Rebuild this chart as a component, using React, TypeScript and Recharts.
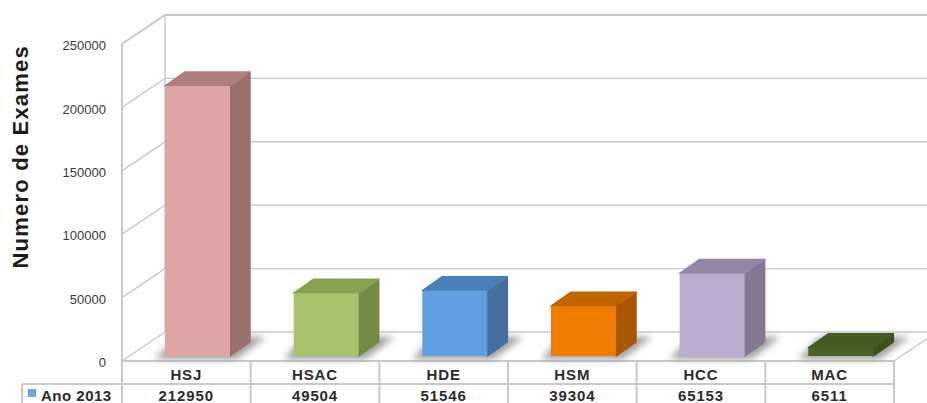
import React from 'react';
import { BarChart, Bar, XAxis, YAxis, CartesianGrid } from 'recharts';

const hospitals = ['HSJ', 'HSAC', 'HDE', 'HSM', 'HCC', 'MAC'];
const exams2013 = [212950, 49504, 51546, 39304, 65153, 6511];
const yTicks = [0, 50000, 100000, 150000, 200000, 250000];
const seriesName = 'Ano 2013';

// front / side / top face of each column
const frontColors = ['#dfa4a4', '#a8c36b', '#619fe0', '#ee7b00', '#bbadd1', '#4d6225'];
const sideColors = ['#9b716e', '#748a45', '#456f9d', '#a85700', '#847792', '#3d4f1c'];
const topColors = ['#b07f7d', '#87a150', '#4a80ba', '#c06400', '#9486a6', '#465a22'];

const rows = hospitals.map((name, i) => ({ name, exams: exams2013[i] }));

const WIDTH = 927;
const HEIGHT = 403;
const PLOT_LEFT = 122;
const PLOT_RIGHT = 894;
const PLOT_TOP = 44;
const PLOT_BOTTOM = 361;
const TABLE_LEFT = 22;
const ROW_LINE = 384;
const DEPTH_X = 43;
const DEPTH_Y = 29;
const BAR_DX = 20;
const BAR_DY = 14;
const BAR_SHIFT_X = 11;
const BAR_SHIFT_Y = 5;
const LINE = '#c9c9c9';
const FONT = '"Liberation Sans", Arial, sans-serif';

function WallLine({ x1, y1, x2 }: any) {
  const backY = y1 - DEPTH_Y;
  const isTop = Math.abs(y1 - PLOT_TOP) < 1;
  return (
    <polyline
      points={`${x1},${y1} ${x1 + DEPTH_X},${backY} ${x2 + DEPTH_X},${backY}`}
      fill="none"
      stroke={LINE}
      strokeWidth={isTop ? 2 : 1.4}
    />
  );
}

function Column(props: any) {
  const { x, y, width, height, index } = props;
  const left = x + BAR_SHIFT_X;
  const right = left + width;
  const top = y - BAR_SHIFT_Y;
  const bottom = top + height;
  const front = frontColors[index];
  const side = sideColors[index];
  const cap = topColors[index];
  return (
    <g strokeLinejoin="round" strokeWidth={1.5}>
      <polygon
        points={`${left - 10},${bottom + 3} ${right + 6},${bottom + 3} ${right + 36},${bottom - 19} ${left + 12},${bottom - 19}`}
        fill="#9c9c9c"
        filter="url(#floorShadow)"
      />
      <polygon
        points={`${right},${top} ${right + BAR_DX},${top - BAR_DY} ${right + BAR_DX},${bottom - BAR_DY} ${right},${bottom}`}
        fill={side}
        stroke={side}
      />
      <polygon
        points={`${left},${top} ${left + BAR_DX},${top - BAR_DY} ${right + BAR_DX},${top - BAR_DY} ${right},${top}`}
        fill={cap}
        stroke={cap}
      />
      <rect x={left} y={top} width={width} height={height} fill={front} />
    </g>
  );
}

// category name and its value, stacked as the two rows of the data table
function TableTick({ x, index, payload }: any) {
  const half = (PLOT_RIGHT - PLOT_LEFT) / hospitals.length / 2;
  return (
    <g fontFamily={FONT} fontWeight={700} fontSize={15} letterSpacing={0.9} fill="#2b2b2b" textAnchor="middle">
      <line x1={x + half} y1={PLOT_BOTTOM} x2={x + half} y2={HEIGHT} stroke={LINE} strokeWidth={2} />
      <text x={x} y={380}>{payload.value}</text>
      <text x={x} y={401}>{exams2013[index]}</text>
    </g>
  );
}

export default function App() {
  return (
    <div style={styles.page}>
      <BarChart
        width={WIDTH}
        height={HEIGHT}
        data={rows}
        margin={{ top: PLOT_TOP, right: WIDTH - PLOT_RIGHT, bottom: 0, left: 0 }}
      >
        <defs>
          <filter id="floorShadow" x="-30%" y="-60%" width="160%" height="220%">
            <feGaussianBlur stdDeviation="3.5" />
          </filter>
        </defs>
        <CartesianGrid vertical={false} horizontal={WallLine} />
        {/* wall edges, floor outline and the table rules */}
        <line x1={PLOT_LEFT} y1={PLOT_TOP} x2={PLOT_LEFT} y2={HEIGHT} stroke={LINE} strokeWidth={2} />
        <line x1={PLOT_LEFT + DEPTH_X} y1={PLOT_TOP - DEPTH_Y} x2={PLOT_LEFT + DEPTH_X} y2={PLOT_BOTTOM - DEPTH_Y} stroke={LINE} strokeWidth={1.4} />
        <line x1={PLOT_RIGHT} y1={PLOT_BOTTOM} x2={PLOT_RIGHT + DEPTH_X} y2={PLOT_BOTTOM - DEPTH_Y} stroke={LINE} strokeWidth={1.4} />
        <line x1={PLOT_LEFT} y1={PLOT_BOTTOM} x2={PLOT_RIGHT} y2={PLOT_BOTTOM} stroke={LINE} strokeWidth={2} />
        <line x1={TABLE_LEFT} y1={ROW_LINE} x2={PLOT_RIGHT} y2={ROW_LINE} stroke={LINE} strokeWidth={2} />
        <line x1={TABLE_LEFT} y1={ROW_LINE} x2={TABLE_LEFT} y2={HEIGHT} stroke={LINE} strokeWidth={2} />
        <XAxis
          dataKey="name"
          axisLine={false}
          tickLine={false}
          interval={0}
          height={HEIGHT - PLOT_BOTTOM}
          tick={TableTick}
        />
        <YAxis
          width={PLOT_LEFT}
          domain={[0, 250000]}
          ticks={yTicks}
          axisLine={false}
          tickLine={false}
          tickMargin={10}
          dy={1.5}
          tick={{ fontFamily: FONT, fontSize: 13, fill: '#3a3a3a' }}
          label={{
            value: 'Numero de Exames',
            angle: -90,
            position: 'insideLeft',
            offset: 0,
            dx: 20,
            dy: 66,
            style: { fontFamily: FONT, fontSize: 22, fontWeight: 700, letterSpacing: 1.2, fill: '#1c1c1c' },
          }}
        />
        <Bar dataKey="exams" barSize={65} shape={Column} isAnimationActive={false} />
        <rect x={28} y={389} width={8} height={8} fill="#6aa5dc" />
        <text x={41} y={401} fontFamily={FONT} fontWeight={700} fontSize={15} letterSpacing={0.5} fill="#2b2b2b">
          {seriesName}
        </text>
      </BarChart>
    </div>
  );
}

const styles: Record<string, React.CSSProperties> = {
  page: {
    position: 'absolute',
    left: 0,
    top: 0,
    width: WIDTH,
    height: HEIGHT,
    overflow: 'hidden',
    background: '#ffffff',
  },
};
